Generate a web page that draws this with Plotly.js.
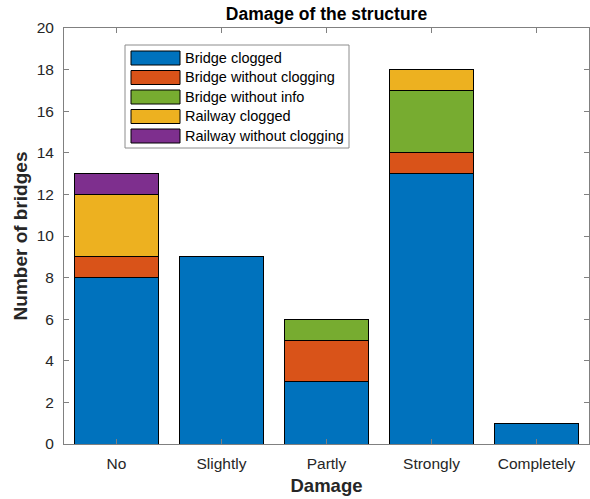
<!DOCTYPE html>
<html><head><meta charset="utf-8">
<script src="https://cdn.plot.ly/plotly-3.0.1.min.js"></script>
<style>body{margin:0;padding:0;background:#fff}#chart{width:590px;height:499px}</style>
</head><body><div id="chart"></div>
<script>
const categories = ["No", "Slightly", "Partly", "Strongly", "Completely"];
const seriesNames = ["Bridge clogged", "Bridge without clogging", "Bridge without info", "Railway clogged", "Railway without clogging"];
const bridgeClogged = [8, 9, 3, 13, 1];
const bridgeWithoutClogging = [1, 0, 2, 1, 0];
const bridgeWithoutInfo = [0, 0, 1, 3, 0];
const railwayClogged = [3, 0, 0, 1, 0];
const railwayWithoutClogging = [1, 0, 0, 0, 0];
const yTicks = [0, 2, 4, 6, 8, 10, 12, 14, 16, 18, 20];

const colors = ["#0072BD", "#D95319", "#77AC30", "#EDB120", "#7E2F8E"];
const seriesValues = [bridgeClogged, bridgeWithoutClogging, bridgeWithoutInfo, railwayClogged, railwayWithoutClogging];

const traces = seriesValues.map((vals, i) => ({
  type: 'bar', x: categories, y: vals, name: seriesNames[i],
  width: 0.8,
  marker: {color: colors[i], line: {color: '#000', width: 1}},
  showlegend: false, hoverinfo: 'skip'
}));

const W = 590, H = 499, mL = 64, mR = 1, mT = 28, mB = 55;
const pw = W - mL - mR, ph = H - mT - mB;
const px = x => (x - mL) / pw;
const py = y => 1 - (y - mT) / ph;
const FONT = 'Liberation Sans, Arial, sans-serif';

const shapes = [{type: 'rect', xref: 'paper', yref: 'paper', x0: px(125), x1: px(349), y0: py(45), y1: py(148),
  line: {color: '#8c8c8c', width: 1}, fillcolor: '#fff', layer: 'above'}];
const annotations = [];
seriesNames.forEach((n, i) => {
  const cy = 58 + i * 19.5;
  shapes.push({type: 'rect', xref: 'paper', yref: 'paper', x0: px(131), x1: px(180), y0: py(cy - 7), y1: py(cy + 7),
    line: {color: '#000', width: 1}, fillcolor: colors[i], layer: 'above'});
  annotations.push({xref: 'paper', yref: 'paper', x: px(183), y: py(cy), text: n, showarrow: false,
    xanchor: 'left', yanchor: 'middle', font: {family: FONT, size: 14.5, color: '#000'}});
});

const layout = {
  width: W, height: H,
  margin: {l: mL, r: mR, t: mT, b: mB, pad: 0},
  paper_bgcolor: '#fff', plot_bgcolor: '#fff',
  barmode: 'stack', bargap: 0.2,
  font: {family: FONT, size: 15.5, color: '#262626'},
  title: {text: '<b>Damage of the structure</b>', x: 0.5 * (mL + W - mR) / W, xanchor: 'center', y: 1 - 14 / H, yanchor: 'middle',
    font: {size: 17.5, color: '#000'}},
  xaxis: {
    range: [-0.5, 4.5], showgrid: false, zeroline: false,
    showline: true, linecolor: '#808080', linewidth: 1, mirror: 'ticks',
    ticks: 'inside', ticklen: 5, tickcolor: '#808080',
    tickfont: {size: 15.5, color: '#262626'}, ticklabelstandoff: 5,
    title: {text: '<b>Damage</b>', font: {size: 18.5, color: '#262626'}, standoff: 8}
  },
  yaxis: {
    range: [0, 20], tickvals: yTicks, showgrid: false, zeroline: false,
    showline: true, linecolor: '#808080', linewidth: 1, mirror: 'ticks',
    ticks: 'inside', ticklen: 5, tickcolor: '#808080',
    tickfont: {size: 15.5, color: '#262626'}, ticklabelstandoff: 6,
    title: {text: '<b>Number of bridges</b>', font: {size: 19, color: '#262626'}, standoff: 4}
  },
  shapes: shapes, annotations: annotations
};

Plotly.newPlot('chart', traces, layout, {displayModeBar: false, staticPlot: true});
</script></body></html>
